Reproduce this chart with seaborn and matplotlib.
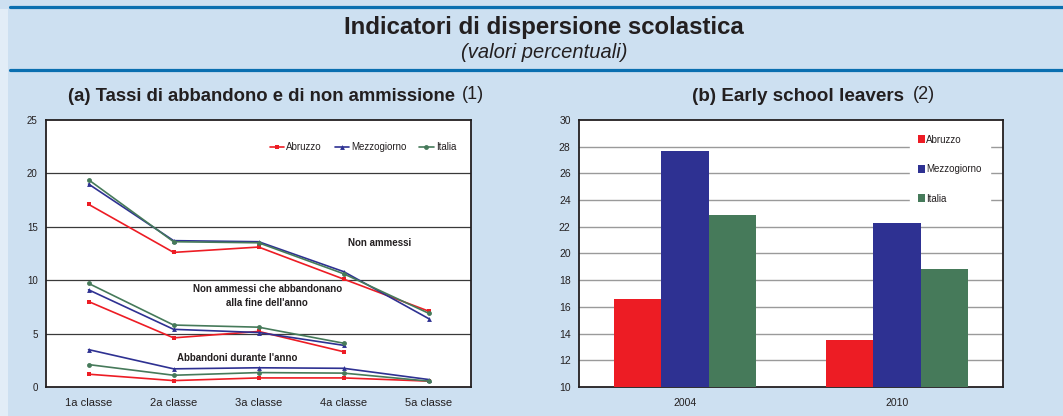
import pandas as pd
import seaborn as sns
import matplotlib.pyplot as plt
from matplotlib.lines import Line2D
from matplotlib.patches import Rectangle

# data
classi = ['1a classe', '2a classe', '3a classe', '4a classe', '5a classe']
regioni = ['Abruzzo', 'Mezzogiorno', 'Italia']

non_ammessi = {
    'Abruzzo':     [17.1, 12.6, 13.1, 10.1, 7.1],
    'Mezzogiorno': [19.0, 13.7, 13.6, 10.8, 6.4],
    'Italia':      [19.4, 13.6, 13.5, 10.6, 6.9],
}
non_ammessi_abbandonano = {
    'Abruzzo':     [8.0, 4.6, 5.2, 3.3, None],
    'Mezzogiorno': [9.1, 5.4, 5.1, 3.9, None],
    'Italia':      [9.7, 5.8, 5.6, 4.1, None],
}
abbandoni_anno = {
    'Abruzzo':     [1.2, 0.6, 0.85, 0.85, 0.55],
    'Mezzogiorno': [3.5, 1.7, 1.8, 1.75, 0.7],
    'Italia':      [2.1, 1.1, 1.35, 1.3, 0.55],
}

anni = ['2004', '2010']
early_leavers = {
    'Abruzzo':     [16.6, 13.5],
    'Mezzogiorno': [27.7, 22.3],
    'Italia':      [22.9, 18.8],
}

#style
bg = '#cde0f1'
ink = '#231f20'
colori = {'Abruzzo': '#ed1c24', 'Mezzogiorno': '#2e3192', 'Italia': '#467a5a'}
marker = {'Abruzzo': 's', 'Mezzogiorno': '^', 'Italia': 'o'}
sns.set_style('white')
plt.rcParams['font.family'] = ['Liberation Sans', 'DejaVu Sans']

fig = plt.figure(figsize=(10.63, 4.16), dpi=100, facecolor=bg)

# header
fig.add_artist(Rectangle((0, 0), 0.0075, 0.978, transform=fig.transFigure, color='#e2edf7', lw=0))
fig.add_artist(Line2D([0.009, 1], [0.984, 0.984], color='#0a6fb0', lw=2.3))
fig.add_artist(Line2D([0.009, 1], [0.831, 0.831], color='#0a6fb0', lw=2.3))
fig.text(0.512, 0.935, 'Indicatori di dispersione scolastica', ha='center', va='center',
         fontsize=17.3, fontweight='bold', color=ink)
fig.text(0.512, 0.874, '(valori percentuali)', ha='center', va='center',
         fontsize=14.5, style='italic', color=ink)

# (a) line chart
ax1 = fig.add_axes([0.0433, 0.0697, 0.400, 0.642])
rows = []
for gruppo, d in [('na', non_ammessi), ('naa', non_ammessi_abbandonano), ('ab', abbandoni_anno)]:
    for r in regioni:
        for c, v in zip(classi, d[r]):
            rows.append({'gruppo': gruppo, 'regione': r, 'classe': c, 'valore': v})
df = pd.DataFrame(rows).dropna()

for gruppo in ['na', 'naa', 'ab']:
    sub = df[df['gruppo'] == gruppo]
    sns.lineplot(data=sub, x='classe', y='valore', hue='regione', style='regione',
                 hue_order=regioni, style_order=regioni, palette=colori, markers=marker,
                 dashes=False, markersize=3.5, markeredgewidth=0, linewidth=1.2,
                 legend=(gruppo == 'na'), ax=ax1)

ax1.set_facecolor('white')
ax1.set_xlim(-0.5, 4.5)
ax1.set_ylim(0, 25)
ax1.set_yticks([0, 5, 10, 15, 20, 25])
ax1.set_xticks(range(5))
ax1.set_xticklabels(classi)
ax1.set_xticks([0.5, 1.5, 2.5, 3.5], minor=True)
ax1.tick_params(axis='x', which='major', length=0, labelsize=8, colors=ink, pad=8)
ax1.tick_params(axis='x', which='minor', length=4, direction='in', width=1, color=ink)
ax1.tick_params(axis='y', length=0, labelsize=7, colors=ink, pad=6)
for y in [5, 10, 15, 20]:
    ax1.axhline(y, color='#3a3a3a', lw=0.9, zorder=0)
for s in ax1.spines.values():
    s.set_color(ink)
    s.set_linewidth(1.3)
ax1.set_xlabel('')
ax1.set_ylabel('')
leg = ax1.legend(ncol=3, loc='upper right', bbox_to_anchor=(0.985, 0.95), frameon=False,
                 fontsize=7, handlelength=1.5, handletextpad=0.2, columnspacing=1.3)
for t in leg.get_texts():
    t.set_color(ink)

ax1.text(3.42, 13.5, 'Non ammessi', ha='center', va='center', fontsize=7, fontweight='bold', color=ink)
ax1.text(2.1, 8.5, "Non ammessi che abbandonano\nalla fine dell'anno", ha='center', va='center',
         fontsize=7, fontweight='bold', color=ink, linespacing=1.5)
ax1.text(1.75, 2.75, "Abbandoni durante l'anno", ha='center', va='center', fontsize=7,
         fontweight='bold', color=ink)
fig.text(0.246, 0.768, '(a) Tassi di abbandono e di non ammissione', ha='center', va='center',
         fontsize=13.3, fontweight='bold', color=ink)
fig.text(0.445, 0.772, '(1)', ha='center', va='center', fontsize=13, color=ink)

# (b) bar chart
ax2 = fig.add_axes([0.5447, 0.0697, 0.399, 0.642])
rows = []
for r in regioni:
    for a, v in zip(anni, early_leavers[r]):
        rows.append({'anno': a, 'regione': r, 'valore': v})
dfb = pd.DataFrame(rows)
sns.barplot(data=dfb, x='anno', y='valore', hue='regione', hue_order=regioni, palette=colori,
            width=0.67, saturation=1, linewidth=0, ax=ax2, zorder=3)
ax2.set_facecolor('white')
ax2.set_ylim(10, 30)
ax2.set_yticks(range(10, 31, 2))
for y in range(12, 30, 2):
    ax2.axhline(y, color='#9a9a9a', lw=1.0, zorder=0)
ax2.set_xticks([0.5], minor=True)
ax2.tick_params(axis='x', which='major', length=0, labelsize=7.5, colors=ink, pad=8)
ax2.tick_params(axis='x', which='minor', length=3, direction='in', width=0.8, color=ink)
ax2.tick_params(axis='y', length=0, labelsize=7.5, colors=ink, pad=6)
for s in ax2.spines.values():
    s.set_color(ink)
    s.set_linewidth(1.3)
ax2.set_xlabel('')
ax2.set_ylabel('')
leg2 = ax2.legend(loc='upper right', bbox_to_anchor=(0.975, 0.985), frameon=True, fancybox=False,
                  edgecolor='white', facecolor='white', framealpha=1, fontsize=7,
                  handlelength=0.7, handleheight=0.9, handletextpad=0.2, labelspacing=2.0,
                  borderpad=0.8, borderaxespad=0.3)
leg2.set_zorder(5)
for t in leg2.get_texts():
    t.set_color(ink)
fig.text(0.751, 0.768, '(b) Early school leavers', ha='center', va='center',
         fontsize=13.6, fontweight='bold', color=ink)
fig.text(0.869, 0.772, '(2)', ha='center', va='center', fontsize=13, color=ink)

plt.savefig('out.png', dpi=100, facecolor=bg)
